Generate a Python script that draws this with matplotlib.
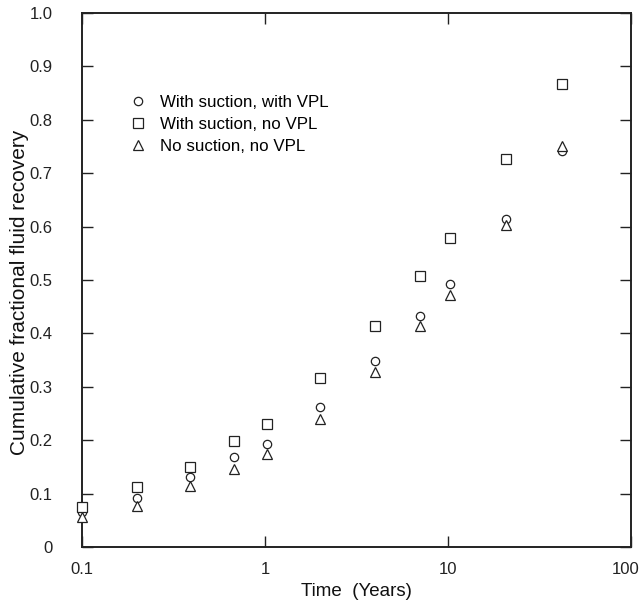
import matplotlib
matplotlib.use('Agg')
import matplotlib.pyplot as plt
import matplotlib.transforms as mtransforms
from matplotlib.ticker import FixedLocator, FixedFormatter, NullLocator

plt.rcParams['font.family'] = ['Liberation Sans', 'DejaVu Sans']

# time in years (log axis)
years = [0.1, 0.2, 0.39, 0.68, 1.03, 2.0, 4.0, 7.0, 10.3, 20.7, 42.0]
# cumulative fractional fluid recovery
suction_vpl = [0.066, 0.091, 0.132, 0.169, 0.193, 0.263, 0.349, 0.433, 0.492, 0.614, 0.742]
suction_novpl = [0.075, 0.112, 0.149, 0.199, 0.230, 0.316, 0.413, 0.507, 0.579, 0.726, 0.867]
nosuction_novpl = [0.057, 0.077, 0.114, 0.147, 0.175, 0.239, 0.327, 0.413, 0.472, 0.603, 0.751]
labels = ['With suction, with VPL', 'With suction, no VPL', 'No suction, no VPL']

xticks = [0.1, 1, 10, 100]
xticklabels = ['0.1', '1', '10', '100']
yticks = [0, 0.1, 0.2, 0.3, 0.4, 0.5, 0.6, 0.7, 0.8, 0.9, 1.0]
yticklabels = ['0', '0.1', '0.2', '0.3', '0.4', '0.5', '0.6', '0.7', '0.8', '0.9', '1.0']

fig = plt.figure(figsize=(6.44, 6.09), dpi=100)
ax = fig.add_axes([0.1273, 0.1018, 0.8527, 0.8769])

kw = dict(linestyle='none', markerfacecolor='white', markeredgecolor='#222222',
          markeredgewidth=0.9, clip_on=False)
ax.plot(years, suction_vpl, marker='o', markersize=6, label=labels[0], zorder=3, **kw)
ax.plot(years, suction_novpl, marker='s', markersize=7, label=labels[1], zorder=3, **kw)
ax.plot(years, nosuction_novpl, marker='^', markersize=7, label=labels[2], zorder=3, **kw)

ax.set_xscale('log')
ax.set_xlim(0.1, 100)
ax.set_ylim(0, 1.0)
ax.xaxis.set_major_locator(FixedLocator(xticks))
ax.xaxis.set_major_formatter(FixedFormatter(xticklabels))
ax.xaxis.set_minor_locator(NullLocator())
ax.set_yticks(yticks)
ax.set_yticklabels(yticklabels)
ax.tick_params(direction='in', length=8, width=1.0, top=True, right=True,
               labelsize=12, colors='#222222')
ax.tick_params(axis='y', pad=21)
ax.tick_params(axis='x', pad=11)
for s in ax.spines.values():
    s.set_linewidth(1.4)
    s.set_color('#222222')

# nudge the last x label so it stays inside the figure
last = ax.get_xticklabels()[-1]
last.set_transform(last.get_transform() + mtransforms.ScaledTranslation(-5/100, 0, fig.dpi_scale_trans))

ax.set_xlabel('Time  (Years)', fontsize=13.5, color='#111111', labelpad=4)
ax.set_ylabel('Cumulative fractional fluid recovery', fontsize=15, color='#111111')
ax.yaxis.set_label_coords(-0.097, 0.477)

ax.legend(loc='upper left', bbox_to_anchor=(0.075, 0.862), frameon=False, fontsize=12.2,
          handlelength=0.8, handletextpad=0.85, labelspacing=0.42, borderpad=0)

fig.savefig('out.png', dpi=100)
